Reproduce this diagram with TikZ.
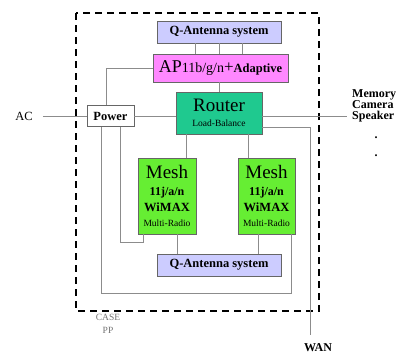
\documentclass[tikz,border=0pt]{standalone}
\usepackage{fontspec}
\setmainfont{Liberation Serif}
\usetikzlibrary{calc}

\definecolor{qblue}{HTML}{CCCCFF}
\definecolor{appink}{HTML}{FF88FF}
\definecolor{routergreen}{HTML}{1FC98F}
\definecolor{meshgreen}{HTML}{66EE33}
\definecolor{wiregray}{HTML}{8C8C8C}

\newcommand{\fs}[1]{\fontsize{#1}{#1}\selectfont}

\tikzset{
  box/.style={draw=black!60, line width=0.8pt, inner sep=0pt, align=center},
  wire/.style={draw=wiregray, line width=1pt},
  outtext/.style={inner sep=0pt, font=\fs{12}\bfseries},
}

\begin{document}
\begin{tikzpicture}[x=1pt,y=-1pt]
\useasboundingbox (0,0) rectangle (398,356);

% the case
\draw [line width=1.8pt, dash pattern=on 7pt off 5pt] (76,13) rectangle (319,311);
\node (case) [inner sep=0pt, text=black!55, font=\fs{9.5}, align=center] at (108,324) {CASE\\[3pt]PP};

% boxes
\node (qtop) [box, fill=qblue, minimum width=124, minimum height=22, font=\fs{12.5}\bfseries] at (219,32) {Q-Antenna system};
\node (ap) [box, fill=appink, minimum width=135, minimum height=28] at (220.5,68)
  {{\fs{18}AP}{\fs{14}11b/g/n}{\fs{17}+}{\fs{12.5}\bfseries Adaptive}};
\node (router) [box, fill=routergreen, minimum width=86, minimum height=42] at (219,113)
  {{\fs{19}Router}\\[3pt]{\fs{9.5}Load-Balance}};
\node (power) [box, fill=white, minimum width=47, minimum height=21, font=\fs{12.5}\bfseries] at (110.5,116) {Power};
\node (meshL) [box, fill=meshgreen, minimum width=58, minimum height=76] at (167,196)
  {{\fs{19}Mesh}\\[5pt]{\fs{12}\bfseries 11j/a/n}\\[4pt]{\fs{12.5}\bfseries WiMAX}\\[3pt]{\fs{9.5}Multi-Radio}};
\node (meshR) [box, fill=meshgreen, minimum width=57, minimum height=76] at (266.5,196)
  {{\fs{19}Mesh}\\[5pt]{\fs{12}\bfseries 11j/a/n}\\[4pt]{\fs{12.5}\bfseries WiMAX}\\[3pt]{\fs{9.5}Multi-Radio}};
\node (qbot) [box, fill=qblue, minimum width=124, minimum height=22, font=\fs{12.5}\bfseries] at (219,265) {Q-Antenna system};

% outside texts
\node (ac) [inner sep=0pt, font=\fs{12.5}] at (24,116) {AC};
\node (devices) [outtext, anchor=west, align=left] at (352,106) {Memory\\[-1pt]Camera\\[-1pt]Speaker};
\node (dot1) [outtext] at (376,138) {.};
\node (dot2) [outtext] at (376,156) {.};
\coordinate (wan) at (310,335);
\node (wanlabel) [outtext] at (318,348) {WAN};
\coordinate (devline) at (347,116);
\coordinate (wanturn) at (310,127);

% connectors
\foreach \dx in {-24,0,23}
  \draw [wire] ([xshift=\dx]qtop.south) -- ([xshift=\dx]qtop.south |- ap.north);
\draw [wire] (ap.south -| router.north) -- (router.north);
\draw [wire] ([xshift=-4.5]power.north) |- (ap.west);
\draw [wire] (ac.east) ++(10,0) -- (power.west);
\draw [wire] (power.east) -- (power.east -| router.west);
\draw [wire] (power.east -| router.east) -- (devline);
\draw [wire] (router.east |- wanturn) -- (wanturn) -- (wan);
\draw [wire] ([xshift=19]meshL.north) -- ([xshift=19]meshL.north |- router.south);
\draw [wire] ([xshift=-18.5]meshR.north) -- ([xshift=-18.5]meshR.north |- router.south);
\draw [wire] ([xshift=10]meshL.south) -- ([xshift=10]meshL.south |- qbot.north);
\draw [wire] ([xshift=-8.5]meshR.south) -- ([xshift=-8.5]meshR.south |- qbot.north);
\draw [wire] ([xshift=9.5]power.south) |- ([xshift=-24,yshift=-8pt]meshL.south) -- ([xshift=-24]meshL.south);
\draw [wire] ([xshift=-9.5]power.south) |- ([xshift=24.5,yshift=-59pt]meshR.south) -- ([xshift=24.5]meshR.south);

\end{tikzpicture}
\end{document}
